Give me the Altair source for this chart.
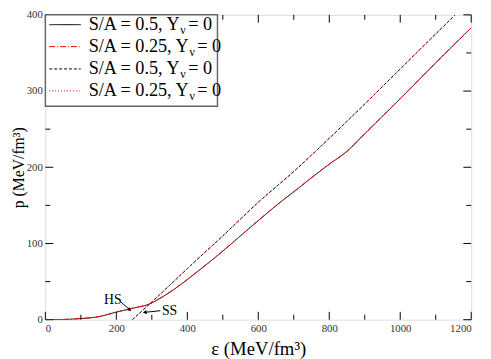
import altair as alt
import pandas as pd

# ---------------- data ----------------
# lower curve (HS), energy density (MeV/fm^3) and pressure (MeV/fm^3)
lower_e = [20, 50, 100, 150, 200, 250, 290, 330, 381, 420, 474, 520, 567, 610,
           659, 706, 752, 800, 850, 900, 1000, 1100, 1200]
lower_p = [0, 0.3, 1.5, 4, 10, 15.5, 20, 30, 46, 60, 80, 98, 117, 134,
           153, 170, 187, 204, 221, 244, 290, 337, 383]
# upper curve (SS)
upper_e = [245, 290, 350, 400, 500, 600, 706, 800, 900, 1000, 1100, 1155]
upper_p = [0, 19, 45, 67, 110, 154, 197, 238, 283, 329, 375, 400]

series_names = ["S/A = 0.5, Y", "S/A = 0.25, Y", "S/A = 0.5, Y", "S/A = 0.25, Y"]
series_colors = ["#000000", "#ff0000", "#000000", "#ff0000"]
series_dash = [[1, 0], [6, 2, 1, 2], [3, 2], [1, 2]]

x_major = [0, 200, 400, 600, 800, 1000, 1200]
x_minor = [100, 300, 500, 700, 900, 1100]
y_major = [0, 100, 200, 300, 400]
y_minor = [50, 150, 250, 350]

ann_text = ["HS", "SS"]
ann_text_e = [190, 350]
ann_text_p = [26, 11]
arrow_e1 = [210, 324]
arrow_p1 = [24.4, 11.8]
arrow_e2 = [238, 280]
arrow_p2 = [13, 9.7]
arrow_angle = [132, 264]

# ---------------- layout ----------------
W, H = 433, 310
PAD = {"left": 38, "top": 4, "right": 12, "bottom": 37}
SERIF = "Liberation Serif"

xs = alt.Scale(domain=[0, 1200], nice=False, zero=False)
ys = alt.Scale(domain=[0, 400], nice=False, zero=False)

df_lower = pd.DataFrame({"e": lower_e, "p": lower_p})
df_upper = pd.DataFrame({"e": upper_e, "p": upper_p})

X_AXIS = alt.Axis(values=x_major, format="d", title="ε (MeV/fm³)", titlePadding=6,
                  titleFontSize=19, ticks=False, domain=False, grid=False,
                  labelFont=SERIF, labelFontSize=11, labelColor="#333", labelPadding=3,
                  titleFont=SERIF, titleFontWeight="normal", titleColor="#000")
Y_AXIS = alt.Axis(values=y_major, format="d", title="p (MeV/fm³)",
                  titleX=-27, titleBaseline="middle", titleAngle=270,
                  titleFontSize=16, ticks=False, domain=False, grid=False,
                  labelFont=SERIF, labelFontSize=11, labelColor="#333", labelPadding=3,
                  titleFont=SERIF, titleFontWeight="normal", titleColor="#000")


def X(field):
    return alt.X(field, scale=xs, axis=X_AXIS)


def Y(field):
    return alt.Y(field, scale=ys, axis=Y_AXIS)


def curve(df, color, dash):
    return alt.Chart(df).mark_line(color=color, strokeDash=dash, strokeWidth=1,
                                   clip=True, interpolate="monotone").encode(
        x=X("e:Q"), y=Y("p:Q"), order="e:Q")


layers = [
    curve(df_lower, series_colors[0], series_dash[0]),
    curve(df_lower, series_colors[1], series_dash[1]),
    curve(df_upper, series_colors[2], series_dash[2]),
    curve(df_upper, series_colors[3], series_dash[3]),
]


# inward ticks on all four sides
def xticks(vals, length):
    d = pd.DataFrame({"v": vals})
    b = alt.Chart(d).mark_rule(color="#000", strokeWidth=1).encode(
        x=X("v:Q"), y=alt.value(H), y2=alt.value(H - length))
    t = alt.Chart(d).mark_rule(color="#000", strokeWidth=1).encode(
        x=X("v:Q"), y=alt.value(0), y2=alt.value(length))
    return [b, t]


def yticks(vals, length):
    d = pd.DataFrame({"v": vals})
    l = alt.Chart(d).mark_rule(color="#000", strokeWidth=1).encode(
        y=Y("v:Q"), x=alt.value(0), x2=alt.value(length))
    r = alt.Chart(d).mark_rule(color="#000", strokeWidth=1).encode(
        y=Y("v:Q"), x=alt.value(W), x2=alt.value(W - length))
    return [l, r]


layers += xticks(x_major, 8) + xticks(x_minor, 5) + yticks(y_major, 8) + yticks(y_minor, 5)

# annotations
df_ann = pd.DataFrame({"t": ann_text, "e": ann_text_e, "p": ann_text_p})
layers.append(alt.Chart(df_ann).mark_text(font=SERIF, fontSize=14, color="#000",
                                          align="center", baseline="middle").encode(
    x=X("e:Q"), y=Y("p:Q"), text="t:N"))
df_arr = pd.DataFrame({"e1": arrow_e1, "p1": arrow_p1, "e2": arrow_e2, "p2": arrow_p2,
                       "a": arrow_angle})
layers.append(alt.Chart(df_arr).mark_rule(color="#000", strokeWidth=1).encode(
    x=X("e1:Q"), y=Y("p1:Q"), x2="e2:Q", y2="p2:Q"))
layers.append(alt.Chart(df_arr).mark_point(shape="triangle-up", filled=True, color="#000",
                                           size=18, opacity=1).encode(
    x=X("e2:Q"), y=Y("p2:Q"), angle=alt.Angle("a:Q", scale=None)))

# legend box
layers.append(alt.Chart(pd.DataFrame({"k": [0]})).mark_rect(
    fill="#fff", stroke="#666", strokeWidth=1.5).encode(
    x=alt.value(0), x2=alt.value(175), y=alt.value(0), y2=alt.value(93)))

row_center = [10, 32.3, 55, 77.3]
row_base = [15.5, 37.5, 60, 82.5]
FS = 18.5
TIMES = {"S": 556, "/": 278, "A": 722, " ": 250, "=": 564, ".": 250, ",": 250, "Y": 722}


def tw(s, fs):
    return sum(TIMES.get(c, 500) for c in s) * fs / 1000.0


for i, name in enumerate(series_names):
    layers.append(alt.Chart(pd.DataFrame({"k": [0]})).mark_rule(
        color=series_colors[i], strokeDash=series_dash[i], strokeWidth=1).encode(
        x=alt.value(4), x2=alt.value(36), y=alt.value(row_center[i])))
    x0 = 44
    w = tw(name, FS)
    layers.append(alt.Chart(pd.DataFrame({"t": [name]})).mark_text(
        font=SERIF, fontSize=FS, align="left", baseline="alphabetic", color="#000").encode(
        x=alt.value(x0), y=alt.value(row_base[i]), text="t:N"))
    layers.append(alt.Chart(pd.DataFrame({"t": ["ν"]})).mark_text(
        font=SERIF, fontSize=12, align="left", baseline="alphabetic", color="#000").encode(
        x=alt.value(x0 + w - 1), y=alt.value(row_base[i] + 4), text="t:N"))
    layers.append(alt.Chart(pd.DataFrame({"t": ["= 0"]})).mark_text(
        font=SERIF, fontSize=FS, align="left", baseline="alphabetic", color="#000").encode(
        x=alt.value(x0 + w + 7), y=alt.value(row_base[i]), text="t:N"))

chart = alt.layer(*layers).properties(
    width=W, height=H,
    autosize=alt.AutoSizeParams(type="none"),
    padding=PAD,
).configure_view(stroke="#000", strokeWidth=1).configure(background="#fff")

chart.save("out.html", embed_options={"renderer": "svg", "actions": False})
